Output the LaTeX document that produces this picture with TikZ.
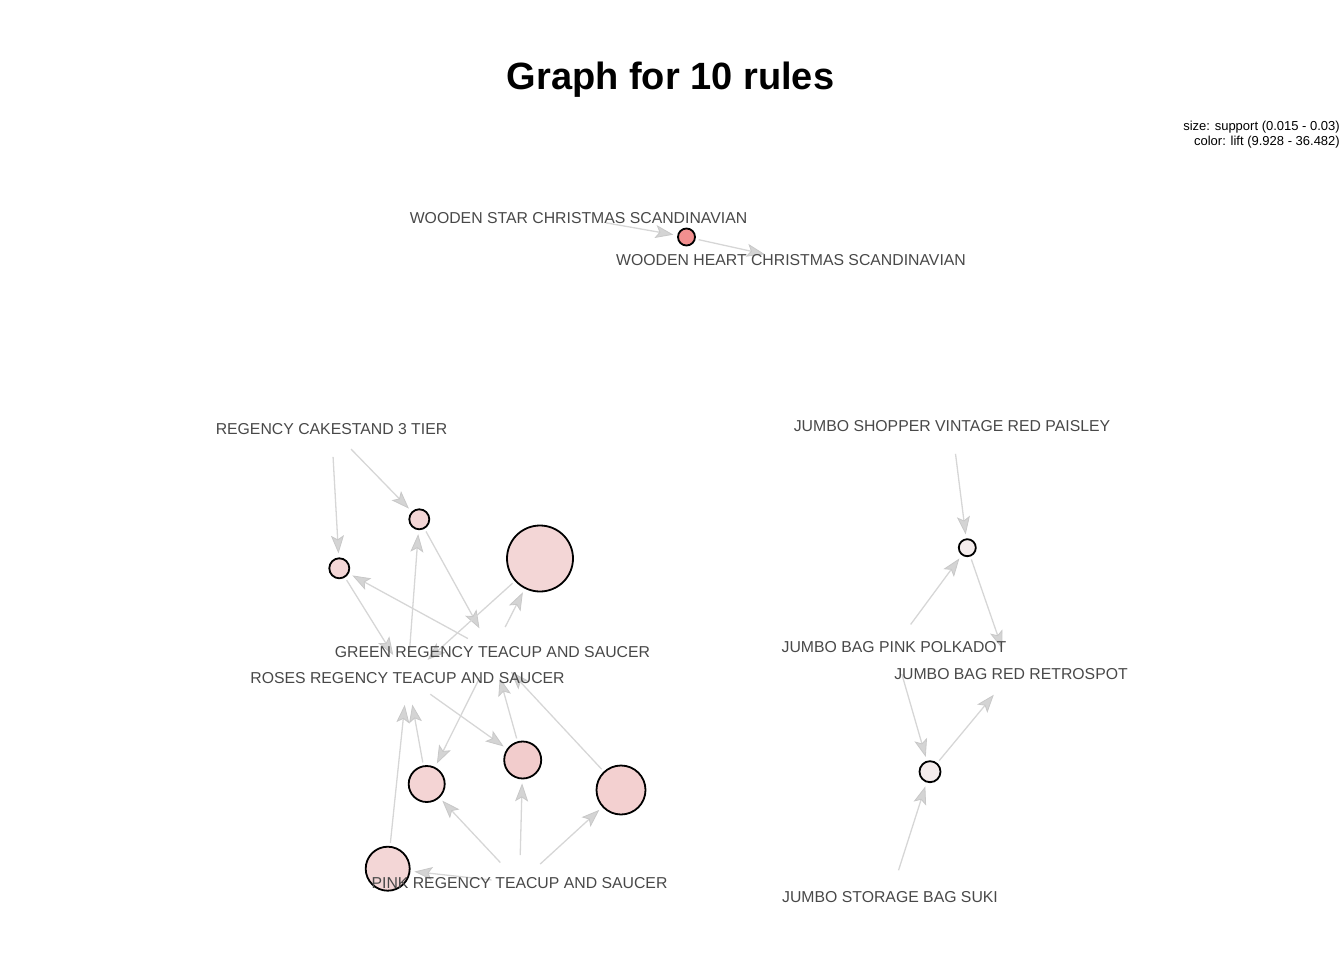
\documentclass[tikz,border=0pt]{standalone}
\usepackage{fontspec}
\setmainfont{Liberation Sans}
\usetikzlibrary{arrows.meta,backgrounds}
\definecolor{edgec}{RGB}{214,214,214}
\definecolor{arrc}{RGB}{212,212,212}
\definecolor{arrd}{RGB}{200,200,200}
\definecolor{labc}{RGB}{72,72,72}
\definecolor{cred}{RGB}{242,143,143}
\definecolor{cpA}{RGB}{243,214,214}
\definecolor{cpD}{RGB}{244,212,212}
\definecolor{cpE}{RGB}{242,204,204}
\definecolor{cpF}{RGB}{243,208,208}
\definecolor{cpW}{RGB}{244,236,236}
\begin{document}
\begin{tikzpicture}[x=1pt,y=-1pt,
  lab/.style={text=labc, font=\fontsize{15.8}{18}\selectfont, inner sep=0pt},
  rulenode/.style={circle, draw=black, line width=1.8pt, inner sep=0pt, minimum size=#1},
  edge/.style={draw=edgec, line width=1.3pt, -{Stealth[length=18pt,width=13pt,inset=4pt,fill=arrc,color=arrd,line width=0.8pt]}},
  fromitem/.style={shorten <=28pt, shorten >=4pt},
  toitem/.style={shorten <=3pt, shorten >=27pt}]
\useasboundingbox (0,0) rectangle (1344,960);

% title and legend
\node[font=\bfseries\fontsize{38}{44}\selectfont, anchor=base, inner sep=0pt] (title) at (670.5,90) {Graph for 10 rules};
\node[font=\fontsize{13}{15}\selectfont, anchor=base east, inner sep=0pt] (leg1) at (1340,131) {size: support (0.015 - 0.03)};
\node[font=\fontsize{13}{15}\selectfont, anchor=base east, inner sep=0pt] (leg2) at (1340,146) {color: lift (9.928 - 36.482)};

% rule circles
\node[rulenode=17pt, fill=cred] (r1) at (686.5,237) {};
\node[rulenode=20pt, fill=cpA] (rA) at (419.3,519.3) {};
\node[rulenode=20pt, fill=cpA] (rB) at (339.3,568.3) {};
\node[rulenode=66pt, fill=cpA] (rC) at (540,558.5) {};
\node[rulenode=36pt, fill=cpD] (rD) at (426.7,784) {};
\node[rulenode=37pt, fill=cpE] (rE) at (522.7,760) {};
\node[rulenode=49pt, fill=cpF] (rF) at (621,790) {};
\node[rulenode=44pt, fill=cpA] (rG) at (387.7,868.7) {};
\node[rulenode=17pt, fill=cpW] (rH) at (967.3,547.7) {};
\node[rulenode=21pt, fill=cpW] (rI) at (930,771.7) {};

% item labels
\node[lab] (lWS) at (578.5,218) {WOODEN STAR CHRISTMAS SCANDINAVIAN};
\node[lab] (lWH) at (791,260) {WOODEN HEART CHRISTMAS SCANDINAVIAN};
\node[lab] (lCake) at (331.5,429) {REGENCY CAKESTAND 3 TIER};
\node[lab] (lGreen) at (492.5,652) {GREEN REGENCY TEACUP AND SAUCER};
\node[lab] (lRoses) at (407.5,678) {ROSES REGENCY TEACUP AND SAUCER};
\node[lab] (lPink) at (519.5,883) {PINK REGENCY TEACUP AND SAUCER};
\node[lab] (lJS) at (952,426) {JUMBO SHOPPER VINTAGE RED PAISLEY};
\node[lab] (lJPP) at (894,647) {JUMBO BAG PINK POLKADOT};
\node[lab] (lJRR) at (1011,674) {JUMBO BAG RED RETROSPOT};
\node[lab] (lSuki) at (890,897) {JUMBO STORAGE BAG SUKI};

\begin{scope}[on background layer]
% top
\draw[edge,fromitem] (lWS.center) -- (r1);
\draw[edge,toitem] (r1) -- (lWH.center);
% rule A: CAKESTAND, ROSES -> GREEN
\draw[edge,fromitem] (lCake.center) -- (rA);
\draw[edge,fromitem] (lRoses.center) -- (rA);
\draw[edge,toitem] (rA) -- (lGreen.center);
% rule B: CAKESTAND, GREEN -> ROSES
\draw[edge,fromitem] (lCake.center) -- (rB);
\draw[edge,fromitem] (lGreen.center) -- (rB);
\draw[edge,toitem] (rB) -- (lRoses.center);
% rule C: GREEN -> ROSES
\draw[edge,fromitem] (lGreen.center) -- (rC);
\draw[edge,toitem] (rC) -- (lRoses.center);
% rule D: GREEN, PINK -> ROSES
\draw[edge,fromitem] (lGreen.center) -- (rD);
\draw[edge,fromitem] (lPink.center) -- (rD);
\draw[edge,toitem] (rD) -- (lRoses.center);
% rule E: ROSES, PINK -> GREEN
\draw[edge,fromitem] (lRoses.center) -- (rE);
\draw[edge,fromitem] (lPink.center) -- (rE);
\draw[edge,toitem] (rE) -- (lGreen.center);
% rule F: PINK -> GREEN
\draw[edge,fromitem] (lPink.center) -- (rF);
\draw[edge,toitem] (rF) -- (lGreen.center);
% rule G: PINK -> ROSES
\draw[edge,fromitem] (lPink.center) -- (rG);
\draw[edge,toitem] (rG) -- (lRoses.center);
% rule H: SHOPPER, PINK POLKADOT -> RED RETROSPOT
\draw[edge,fromitem] (lJS.center) -- (rH);
\draw[edge,fromitem] (lJPP.center) -- (rH);
\draw[edge,toitem] (rH) -- (lJRR.center);
% rule I: PINK POLKADOT, SUKI -> RED RETROSPOT
\draw[edge,fromitem] (lJPP.center) -- (rI);
\draw[edge,fromitem] (lSuki.center) -- (rI);
\draw[edge,toitem] (rI) -- (lJRR.center);
\end{scope}
\end{tikzpicture}
\end{document}
